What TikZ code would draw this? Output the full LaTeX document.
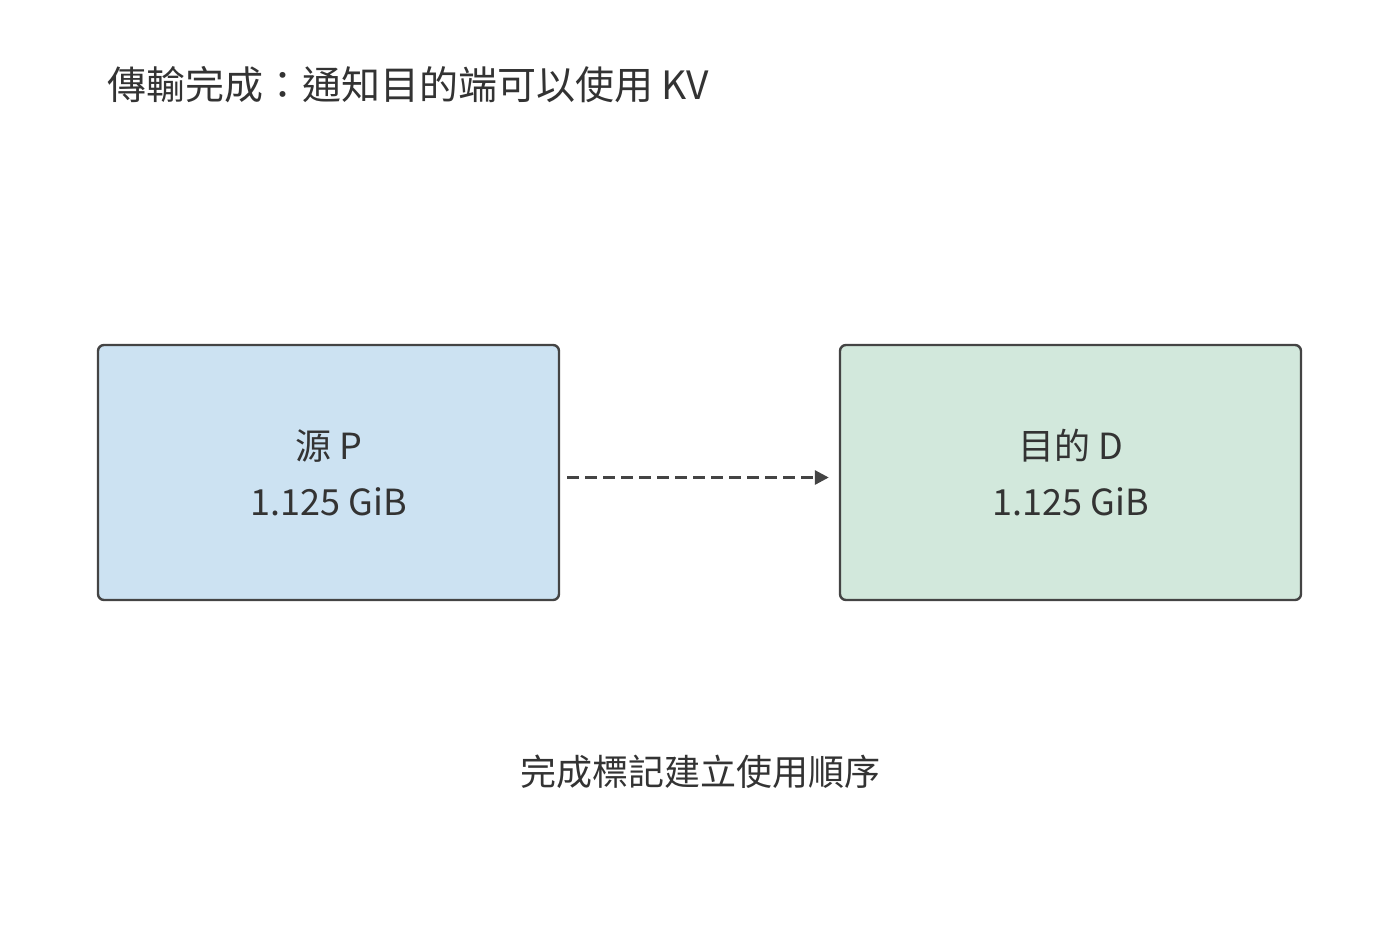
\documentclass[tikz,border=0pt]{standalone}
\usepackage{fontspec}
\setmainfont{Noto Sans CJK TC}
\usetikzlibrary{arrows.meta,positioning}
\definecolor{srcfill}{HTML}{CCE2F2}
\definecolor{dstfill}{HTML}{D2E8DC}
\definecolor{edge}{HTML}{444444}
\definecolor{ink}{HTML}{333333}
\begin{document}
\begin{tikzpicture}[x=0.5pt,y=-0.5pt,
	box/.style={draw=edge,line width=1.2pt,rounded corners=3pt,minimum width=230.5pt,minimum height=127.5pt,align=center,font=\fontsize{18}{28}\selectfont,text=ink},
	link/.style={draw=edge,line width=1.5pt,dash pattern={on 6pt off 3pt},-{Triangle[length=7pt,width=7pt]}}]
			%set diagram frame
			\useasboundingbox (0,0) rectangle (1400,936);
			
			% Title
			\node (title) [anchor=west,text=ink,font=\fontsize{19.5}{24}\selectfont] at (100,85) {傳輸完成：通知目的端可以使用 KV};
			
			% Boxes
			\node (src) [box,fill=srcfill] at (328.5,472.5) {源 P\\1.125 GiB};
			\node (dst) [box,fill=dstfill] at (1070.5,472.5) {目的 D\\1.125 GiB};
			
			% Connector
			\draw [link] ([xshift=3.5pt,yshift=-2.5pt]src.east) -- ([xshift=-5pt,yshift=-2.5pt]dst.west);
			
			% Note
			\node (note) [text=ink,font=\fontsize{18}{24}\selectfont] at (700,772) {完成標記建立使用順序};
			
\end{tikzpicture}
\end{document}
